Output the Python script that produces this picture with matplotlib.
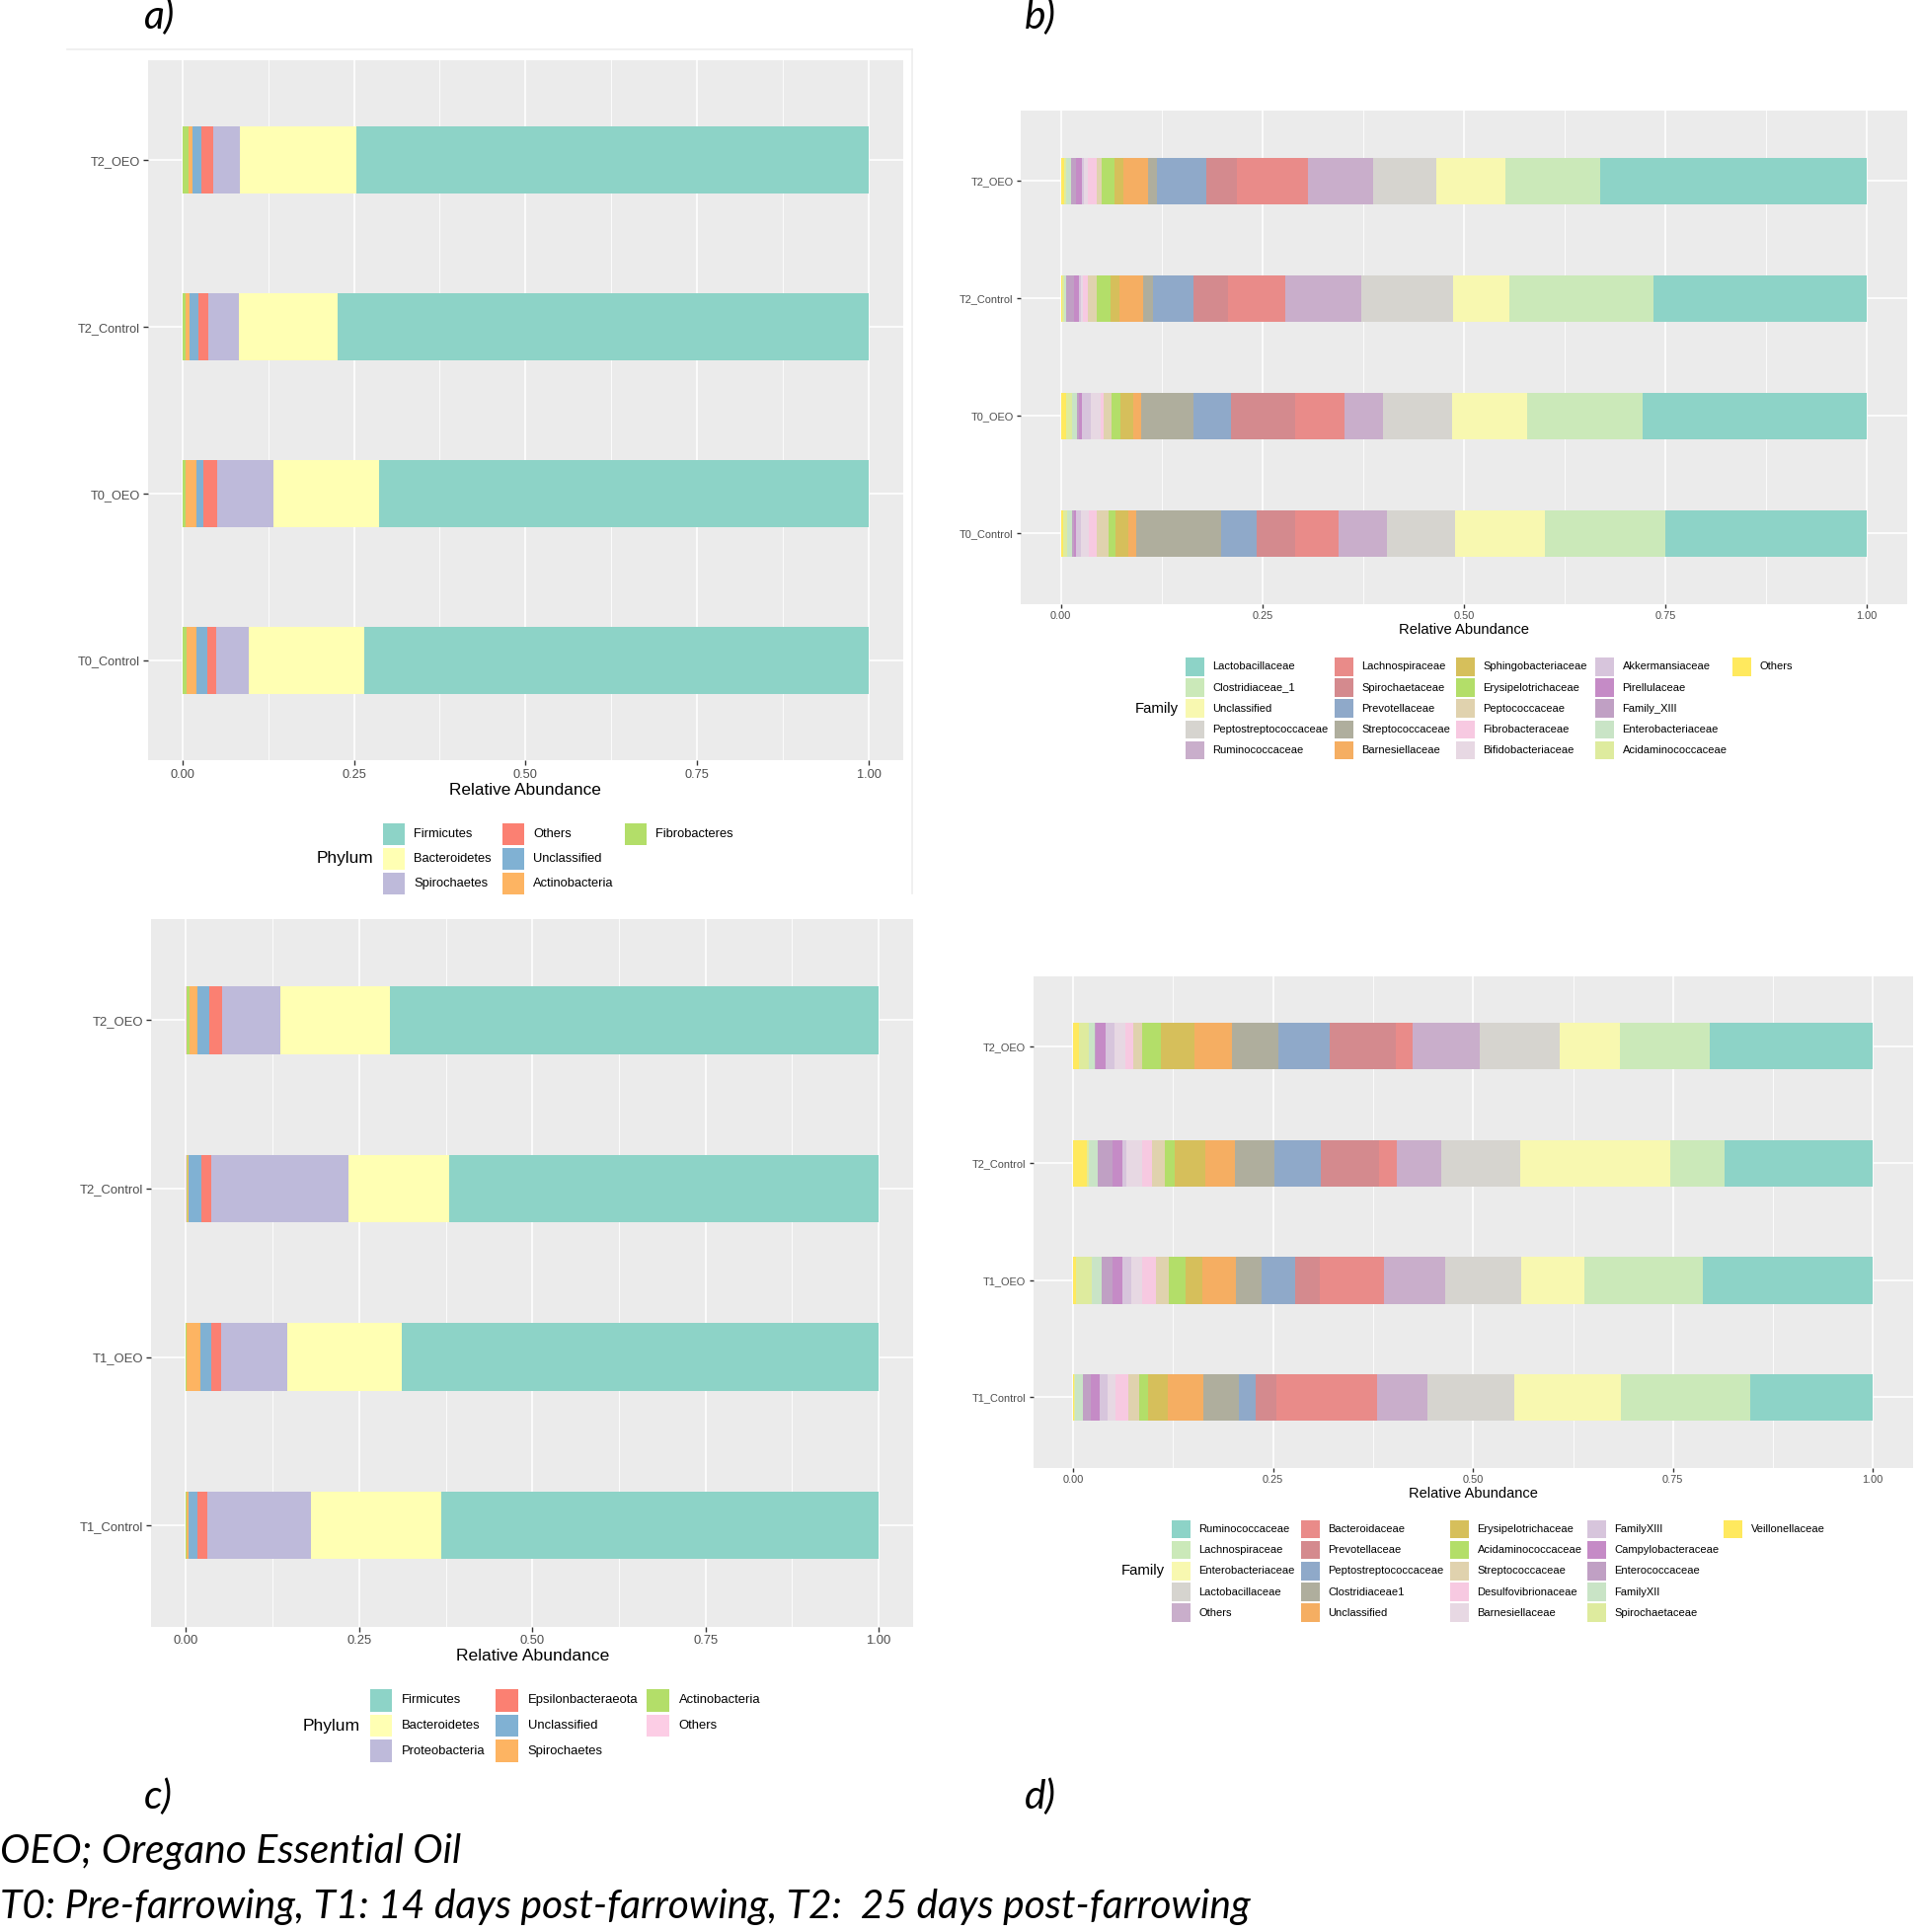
import matplotlib
matplotlib.use("Agg")
import matplotlib.pyplot as plt
from matplotlib.patches import Rectangle
from matplotlib.lines import Line2D
import numpy as np

W, H = 1946, 1957
plt.rcParams['font.family'] = ['Liberation Sans', 'DejaVu Sans']

# ---------------- Panel a (Phylum, T0/T2) ----------------
a_samples = ["T0_Control", "T0_OEO", "T2_Control", "T2_OEO"]
a_taxa = ["Firmicutes", "Bacteroidetes", "Spirochaetes", "Others",
          "Unclassified", "Actinobacteria", "Fibrobacteres"]
a_colors = ["#8DD3C7", "#FFFFB3", "#BEBADA", "#FB8072", "#80B1D3", "#FDB462", "#B3DE69"]
a_T0_Control = [0.735, 0.169, 0.047, 0.013, 0.015, 0.015, 0.006]
a_T0_OEO     = [0.714, 0.154, 0.081, 0.020, 0.011, 0.015, 0.005]
a_T2_Control = [0.774, 0.143, 0.045, 0.014, 0.013, 0.007, 0.004]
a_T2_OEO     = [0.747, 0.169, 0.039, 0.018, 0.012, 0.006, 0.009]

# ---------------- Panel b (Family, T0/T2) ----------------
b_samples = ["T0_Control", "T0_OEO", "T2_Control", "T2_OEO"]
b_taxa = ["Lactobacillaceae", "Clostridiaceae_1", "Unclassified", "Peptostreptococcaceae",
          "Ruminococcaceae", "Lachnospiraceae", "Spirochaetaceae", "Prevotellaceae",
          "Streptococcaceae", "Barnesiellaceae", "Sphingobacteriaceae", "Erysipelotrichaceae",
          "Peptococcaceae", "Fibrobacteraceae", "Bifidobacteriaceae", "Akkermansiaceae",
          "Pirellulaceae", "Family_XIII", "Enterobacteriaceae", "Acidaminococcaceae", "Others"]
b_colors = ["#8DD3C7", "#CBE9B9", "#F8F8B0", "#D6D4CF", "#C9AECB", "#E98B89", "#D48A8E",
            "#8FA9C9", "#AFAE9D", "#F5AE62", "#D6BF5B", "#B3DE69", "#E0D2AE", "#F7C9E1",
            "#E7D8E3", "#D7C5DC", "#C58BC6", "#C0A0C4", "#C9E4C6", "#DEEB9E", "#FFE95E"]
b_T0_Control = [0.250, 0.149, 0.112, 0.084, 0.061, 0.053, 0.048, 0.044, 0.105, 0.010, 0.016,
                0.009, 0.014, 0.010, 0.010, 0.006, 0.003, 0.002, 0.006, 0.005, 0.003]
b_T0_OEO     = [0.278, 0.144, 0.093, 0.085, 0.048, 0.061, 0.080, 0.046, 0.065, 0.010, 0.016,
                0.011, 0.010, 0.004, 0.012, 0.011, 0.004, 0.002, 0.006, 0.007, 0.007]
b_T2_Control = [0.265, 0.178, 0.070, 0.114, 0.094, 0.071, 0.044, 0.050, 0.012, 0.029, 0.011,
                0.018, 0.010, 0.007, 0.002, 0.002, 0.007, 0.009, 0.003, 0.002, 0.002]
b_T2_OEO     = [0.331, 0.117, 0.086, 0.078, 0.081, 0.089, 0.038, 0.061, 0.011, 0.030, 0.012,
                0.015, 0.007, 0.011, 0.004, 0.003, 0.007, 0.007, 0.005, 0.003, 0.004]

# ---------------- Panel c (Phylum, T1/T2) ----------------
c_samples = ["T1_Control", "T1_OEO", "T2_Control", "T2_OEO"]
c_taxa = ["Firmicutes", "Bacteroidetes", "Proteobacteria", "Epsilonbacteraeota",
          "Unclassified", "Spirochaetes", "Actinobacteria", "Others"]
c_colors = ["#8DD3C7", "#FFFFB3", "#BEBADA", "#FB8072", "#80B1D3", "#FDB462", "#B3DE69", "#FCCDE5"]
c_T1_Control = [0.632, 0.188, 0.149, 0.014, 0.013, 0.003, 0.001, 0.000]
c_T1_OEO     = [0.688, 0.166, 0.095, 0.015, 0.015, 0.020, 0.001, 0.000]
c_T2_Control = [0.620, 0.146, 0.198, 0.014, 0.018, 0.002, 0.001, 0.001]
c_T2_OEO     = [0.705, 0.159, 0.084, 0.018, 0.018, 0.011, 0.004, 0.001]

# ---------------- Panel d (Family, T1/T2) ----------------
d_samples = ["T1_Control", "T1_OEO", "T2_Control", "T2_OEO"]
d_taxa = ["Ruminococcaceae", "Lachnospiraceae", "Enterobacteriaceae", "Lactobacillaceae",
          "Others", "Bacteroidaceae", "Prevotellaceae", "Peptostreptococcaceae",
          "Clostridiaceae1", "Unclassified", "Erysipelotrichaceae", "Acidaminococcaceae",
          "Streptococcaceae", "Desulfovibrionaceae", "Barnesiellaceae", "FamilyXIII",
          "Campylobacteraceae", "Enterococcaceae", "FamilyXII", "Spirochaetaceae", "Veillonellaceae"]
d_colors = ["#8DD3C7", "#CBE9B9", "#F8F8B0", "#D6D4CF", "#C9AECB", "#E98B89", "#D48A8E",
            "#8FA9C9", "#AFAE9D", "#F5AE62", "#D6BF5B", "#B3DE69", "#E0D2AE", "#F7C9E1",
            "#E7D8E3", "#D7C5DC", "#C58BC6", "#C0A0C4", "#C9E4C6", "#DEEB9E", "#FFE95E"]
d_T1_Control = [0.153, 0.162, 0.134, 0.108, 0.063, 0.126, 0.026, 0.021, 0.044, 0.045, 0.025,
                0.010, 0.014, 0.016, 0.010, 0.010, 0.011, 0.010, 0.010, 0.001, 0.001]
d_T1_OEO     = [0.213, 0.148, 0.079, 0.095, 0.077, 0.080, 0.030, 0.042, 0.033, 0.042, 0.021,
                0.021, 0.016, 0.017, 0.013, 0.012, 0.012, 0.014, 0.012, 0.020, 0.003]
d_T2_Control = [0.185, 0.068, 0.188, 0.099, 0.055, 0.023, 0.073, 0.058, 0.049, 0.037, 0.038,
                0.012, 0.017, 0.012, 0.019, 0.006, 0.012, 0.019, 0.010, 0.003, 0.017]
d_T2_OEO     = [0.204, 0.112, 0.076, 0.100, 0.083, 0.021, 0.083, 0.064, 0.059, 0.047, 0.042,
                0.023, 0.011, 0.010, 0.014, 0.010, 0.013, 0.001, 0.008, 0.012, 0.007]

x_ticks = [0.0, 0.25, 0.5, 0.75, 1.0]
x_ticklabels = ["0.00", "0.25", "0.50", "0.75", "1.00"]

fig = plt.figure(figsize=(W / 100, H / 100), dpi=100)
fig.patch.set_facecolor("white")


def draw_panel(rect, samples, taxa, colors, table, tick_fs, title_fs, tick_len):
    l, t, r, b = rect
    ax = fig.add_axes([l / W, 1 - b / H, (r - l) / W, (b - t) / H])
    ax.set_facecolor("#EBEBEB")
    vals = np.array(table)
    y = np.arange(1, len(samples) + 1)
    left = np.zeros(len(samples))
    for j in range(len(taxa) - 1, -1, -1):
        ax.barh(y, vals[:, j], left=left, height=0.4, color=colors[j],
                linewidth=0, zorder=3)
        left += vals[:, j]
    ax.set_xlim(-0.05, 1.05)
    ax.set_ylim(0.4, len(samples) + 0.6)
    ax.set_xticks(x_ticks)
    ax.set_xticklabels(x_ticklabels)
    ax.set_xticks([0.125, 0.375, 0.625, 0.875], minor=True)
    ax.set_yticks(y)
    ax.set_yticklabels(samples)
    ax.grid(which="major", color="white", linewidth=1.2, zorder=1)
    ax.grid(which="minor", axis="x", color="white", linewidth=0.6, zorder=1)
    ax.set_axisbelow(True)
    for s in ax.spines.values():
        s.set_visible(False)
    ax.tick_params(which="major", length=tick_len, width=1.0, color="#333333",
                   labelcolor="#4D4D4D", labelsize=tick_fs, pad=2.5)
    ax.tick_params(which="minor", length=0)
    ax.set_xlabel("Relative Abundance", fontsize=title_fs, color="black", labelpad=1.5)
    return ax


def draw_legend(title, labels, colors, nrow, col_x, y0, dy, key, label_dx, fs,
                title_x, title_fs):
    for k, (lab, col) in enumerate(zip(labels, colors)):
        c = k // nrow
        r = k % nrow
        x = col_x[c]
        yc = y0 + r * dy
        fig.patches.append(Rectangle((x / W, 1 - (yc + key / 2) / H), key / W, key / H,
                                     transform=fig.transFigure, facecolor=col,
                                     edgecolor="none"))
        fig.text((x + label_dx) / W, 1 - yc / H, lab, ha="left", va="center",
                 fontsize=fs, color="black")
    fig.text(title_x / W, 1 - (y0 + (nrow - 1) * dy / 2) / H, title, ha="left",
             va="center", fontsize=title_fs, color="black")


# faint frame around panel a
fig.add_artist(Line2D([68 / W, 924 / W], [1 - 50 / H, 1 - 50 / H], color="#EDEDED", lw=1.2))
fig.add_artist(Line2D([924 / W, 924 / W], [1 - 50 / H, 1 - 905 / H], color="#EDEDED", lw=1.2))

draw_panel((150.0, 60.9, 914.8, 770.4), a_samples, a_taxa, a_colors,
           [a_T0_Control, a_T0_OEO, a_T2_Control, a_T2_OEO], 9.2, 12.4, 3.5)
draw_panel((1033.9, 112.1, 1931.8, 611.8), b_samples, b_taxa, b_colors,
           [b_T0_Control, b_T0_OEO, b_T2_Control, b_T2_OEO], 7.9, 10.6, 2.8)
draw_panel((153.4, 931.1, 925.0, 1647.5), c_samples, c_taxa, c_colors,
           [c_T1_Control, c_T1_OEO, c_T2_Control, c_T2_OEO], 9.4, 12.6, 3.5)
draw_panel((1046.7, 988.5, 1937.8, 1486.5), d_samples, d_taxa, d_colors,
           [d_T1_Control, d_T1_OEO, d_T2_Control, d_T2_OEO], 7.9, 10.5, 2.8)

draw_legend("Phylum", a_taxa, a_colors, 3, [388, 509, 633], 845, 25, 22, 31, 9.3, 321, 12.4)
draw_legend("Family", b_taxa, b_colors, 5, [1201, 1352, 1475, 1616, 1755], 675.3, 21.2,
            18.5, 27.5, 8.0, 1150, 10.7)
draw_legend("Phylum", c_taxa, c_colors, 3, [374.5, 502, 655], 1722.4, 25.6, 22.5, 32.5,
            9.4, 307, 12.6)
draw_legend("Family", d_taxa, d_colors, 5, [1187, 1318, 1469, 1608, 1746], 1548.9, 21.2,
            18.5, 27.5, 8.0, 1136, 10.7)

# panel letters and caption
cap_font = ["Lato", "DejaVu Sans"]
letters = []
for txt, x, y in [("a)", 146, 17), ("b)", 1038, 17), ("c)", 146, 1820), ("d)", 1038, 1820)]:
    letters.append(fig.text(x / W, 1 - y / H, txt, ha="left", va="center",
                            fontsize=26, style="italic", family=cap_font))
cap1 = fig.text(0.0, 1 - 1876 / H, "OEO; Oregano Essential Oil", ha="left", va="center",
                fontsize=28, style="italic", family=cap_font)
cap2 = fig.text(0.0, 1 - 1932 / H,
                "T0: Pre-farrowing, T1: 14 days post-farrowing, T2:  25 days post-farrowing",
                ha="left", va="center", fontsize=28, style="italic", family=cap_font)
fig.canvas.draw()
r = fig.canvas.get_renderer()
w2 = cap2.get_window_extent(r).width
size = 28 * 1266 / w2
cap1.set_fontsize(size)
cap2.set_fontsize(size)
for t in letters:
    t.set_fontsize(size)

fig.savefig("out.png", dpi=100)
